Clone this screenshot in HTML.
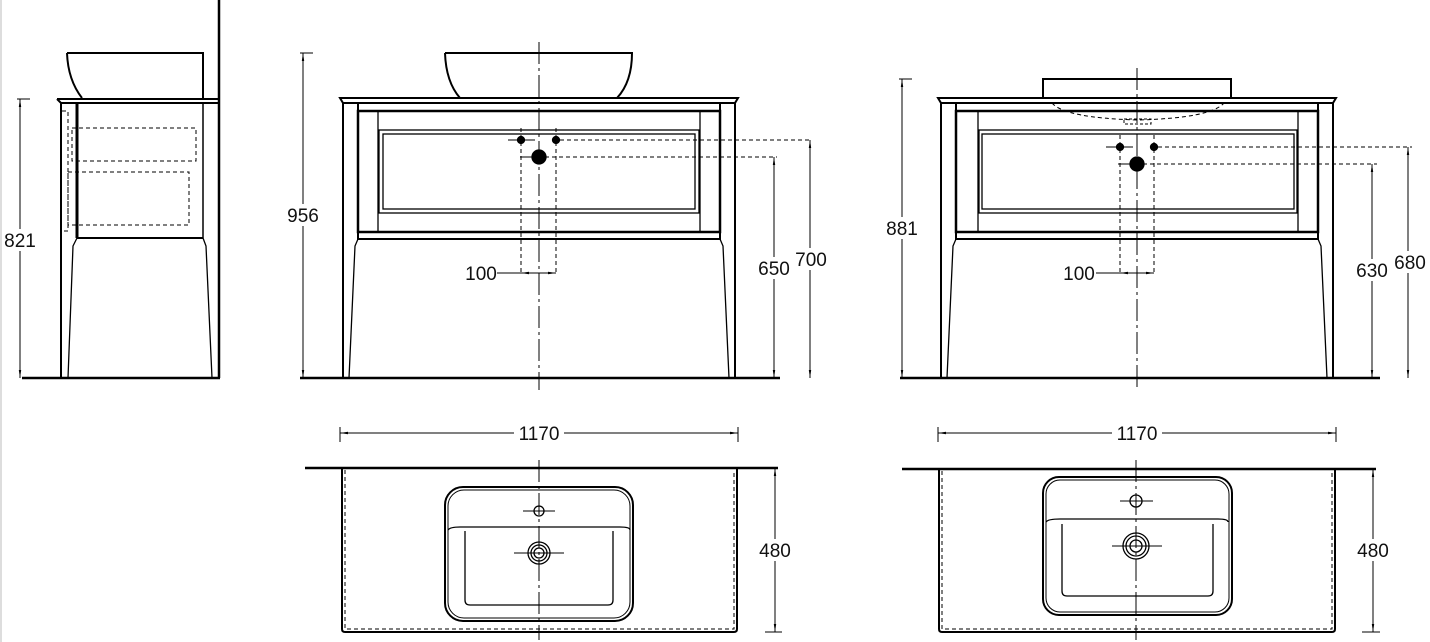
<!DOCTYPE html>
<html><head><meta charset="utf-8"><style>
html,body{margin:0;padding:0;background:#fff;}
svg{display:block;}
text{font-family:"Liberation Sans",sans-serif;font-size:19px;fill:#111;}
</style></head><body>
<svg width="1430" height="642" viewBox="0 0 1430 642" xmlns="http://www.w3.org/2000/svg">
<defs>
<marker id="a" viewBox="0 0 10 10" refX="10" refY="5" markerWidth="8" markerHeight="8" orient="auto-start-reverse"><path d="M0,3.5 L10,5 L0,6.5z" fill="#000"/></marker>
</defs>
<rect x="0" y="0" width="1430" height="642" fill="#fff"/>
<line x1="1" y1="0" x2="1" y2="642" stroke="#ddd" stroke-width="2"/>
<g fill="none" stroke="#000" stroke-width="1.3">

<line x1="219" y1="0" x2="219" y2="378" stroke-width="2.5"/>
<path d="M67,53 L203,53 L203,98 M67,53 Q68,80 82,98" stroke-width="2"/>
<path d="M57,99 L219,99 M57,99 L61,103 L219,103" stroke-width="2"/>
<line x1="61" y1="103" x2="61" y2="378" stroke-width="2"/>
<line x1="77" y1="103" x2="77" y2="238" stroke-width="3"/>
<line x1="203" y1="103" x2="203" y2="238" stroke-width="1.5"/>
<line x1="77" y1="238" x2="203" y2="238" stroke-width="2"/>
<path d="M77,238 L73,246 L68,378 M203,238 L206,246 L212,378"/>
<g stroke-dasharray="4,3" stroke-width="1"><rect x="72" y="128" width="124" height="33"/><rect x="68" y="172" width="121" height="53"/><path d="M62,111 L68,111 L68,231 L62,231"/></g>
<line x1="22" y1="378" x2="220" y2="378" stroke-width="2.5"/>
<line x1="20" y1="99" x2="20" y2="378" marker-start="url(#a)" marker-end="url(#a)" stroke-width="1"/>
<line x1="17" y1="99" x2="30" y2="99" stroke-width="1"/>

<path d="M445,53 L632,53 Q632,82 617,98 M445,53 Q446,82 460,98" stroke-width="2"/>
<path d="M340,98 L738,98 L735,103 L343,103 Z" stroke-width="2"/>
<line x1="343" y1="103" x2="343" y2="378" stroke-width="2"/>
<line x1="735" y1="103" x2="735" y2="378" stroke-width="2"/>
<rect x="358" y="111" width="362" height="121" stroke-width="2.5"/>
<line x1="358" y1="103" x2="358" y2="111" stroke-width="2"/>
<line x1="720" y1="103" x2="720" y2="111" stroke-width="2"/>
<line x1="378" y1="111" x2="378" y2="232"/><line x1="700" y1="111" x2="700" y2="232"/>
<rect x="379" y="130" width="320" height="83"/><rect x="383" y="134" width="312" height="75"/>
<path d="M358,232 L358,239 L720,239 L720,232" stroke-width="2"/>
<path d="M358,239 L355,246 L349,378 M720,239 L723,246 L729,378"/>
<line x1="300" y1="378" x2="780" y2="378" stroke-width="2.5"/>
<line x1="539" y1="42" x2="539" y2="390" stroke-width="1" stroke-dasharray="22,4,3,4"/>
<circle cx="521" cy="140" r="3.5" fill="#000"/><circle cx="556" cy="140" r="3.5" fill="#000"/>
<circle cx="539" cy="157" r="7" fill="#000"/>
<g stroke-width="1" stroke-dasharray="4,3">
<line x1="521" y1="128" x2="521" y2="275"/><line x1="556" y1="128" x2="556" y2="275"/>
<line x1="560" y1="140" x2="812" y2="140"/><line x1="545" y1="157" x2="777" y2="157"/>
</g>
<line x1="508" y1="140" x2="535" y2="140" stroke-width="1"/>
<line x1="520" y1="157" x2="536" y2="157" stroke-width="1"/>
<line x1="497" y1="273" x2="521" y2="273" stroke-width="1"/>
<line x1="539" y1="273" x2="521" y2="273" stroke-width="1" marker-end="url(#a)"/>
<line x1="539" y1="273" x2="556" y2="273" stroke-width="1" marker-end="url(#a)"/>
<line x1="303" y1="53" x2="303" y2="378" marker-start="url(#a)" marker-end="url(#a)" stroke-width="1"/>
<line x1="300" y1="53" x2="313" y2="53" stroke-width="1"/>
<line x1="774" y1="157" x2="774" y2="378" marker-start="url(#a)" marker-end="url(#a)" stroke-width="1"/>
<line x1="810" y1="140" x2="810" y2="378" marker-start="url(#a)" marker-end="url(#a)" stroke-width="1"/>

<path d="M1043,98 L1043,79 L1231,79 L1231,98" stroke-width="2"/>
<path d="M1052,103 Q1065,118 1138,120 Q1211,118 1224,103" stroke-width="1" stroke-dasharray="4,3"/>
<rect x="1124" y="119" width="27" height="5" stroke-width="1" stroke-dasharray="3,2"/>
<path d="M938,98 L1336,98 L1333,103 L941,103 Z" stroke-width="2"/>
<line x1="941" y1="103" x2="941" y2="378" stroke-width="2"/>
<line x1="1333" y1="103" x2="1333" y2="378" stroke-width="2"/>
<rect x="956" y="111" width="362" height="121" stroke-width="2.5"/>
<line x1="956" y1="103" x2="956" y2="111" stroke-width="2"/>
<line x1="1318" y1="103" x2="1318" y2="111" stroke-width="2"/>
<line x1="978" y1="111" x2="978" y2="232"/><line x1="1298" y1="111" x2="1298" y2="232"/>
<rect x="979" y="130" width="318" height="83"/><rect x="982" y="134" width="312" height="75"/>
<path d="M956,232 L956,239 L1318,239 L1318,232" stroke-width="2"/>
<path d="M956,239 L953,246 L947,378 M1318,239 L1321,246 L1327,378"/>
<line x1="900" y1="378" x2="1380" y2="378" stroke-width="2.5"/>
<line x1="1137" y1="68" x2="1137" y2="390" stroke-width="1" stroke-dasharray="22,4,3,4"/>
<circle cx="1120" cy="147" r="3.5" fill="#000"/><circle cx="1154" cy="147" r="3.5" fill="#000"/>
<circle cx="1137" cy="164" r="7" fill="#000"/>
<g stroke-width="1" stroke-dasharray="4,3">
<line x1="1120" y1="135" x2="1120" y2="275"/><line x1="1154" y1="135" x2="1154" y2="275"/>
<line x1="1158" y1="147" x2="1412" y2="147"/><line x1="1143" y1="164" x2="1377" y2="164"/>
</g>
<line x1="1106" y1="147" x2="1133" y2="147" stroke-width="1"/>
<line x1="1118" y1="164" x2="1134" y2="164" stroke-width="1"/>
<line x1="1096" y1="273" x2="1120" y2="273" stroke-width="1"/>
<line x1="1137" y1="273" x2="1120" y2="273" stroke-width="1" marker-end="url(#a)"/>
<line x1="1137" y1="273" x2="1154" y2="273" stroke-width="1" marker-end="url(#a)"/>
<line x1="902" y1="79" x2="902" y2="378" marker-start="url(#a)" marker-end="url(#a)" stroke-width="1"/>
<line x1="899" y1="79" x2="912" y2="79" stroke-width="1"/>
<line x1="1372" y1="164" x2="1372" y2="378" marker-start="url(#a)" marker-end="url(#a)" stroke-width="1"/>
<line x1="1408" y1="147" x2="1408" y2="378" marker-start="url(#a)" marker-end="url(#a)" stroke-width="1"/>

<line x1="340" y1="433" x2="738" y2="433" marker-start="url(#a)" marker-end="url(#a)" stroke-width="1"/>
<line x1="340" y1="427" x2="340" y2="442" stroke-width="1"/><line x1="738" y1="427" x2="738" y2="442" stroke-width="1"/>
<line x1="305" y1="468" x2="778" y2="468" stroke-width="2.5"/>
<path d="M342,468 L342,629 Q342,632 345,632 L734,632 Q737,632 737,629 L737,468" stroke-width="2"/>
<path d="M345,470 L345,629 L734,629 L734,470" stroke-width="1" stroke-dasharray="4,3"/>
<rect x="445" y="487" width="188" height="134" rx="18" stroke-width="2"/>
<rect x="448" y="490" width="182" height="128" rx="16" stroke-width="1"/>
<path d="M448,530 Q450,527 460,527 L620,527 Q630,527 630,530"/>
<path d="M465,531 L465,600 Q465,605 470,605 L608,605 Q613,605 613,600 L613,531"/>
<circle cx="539" cy="511" r="5"/>
<line x1="523" y1="511" x2="555" y2="511" stroke-width="1"/>
<circle cx="539" cy="553" r="11"/><circle cx="539" cy="553" r="8"/><circle cx="539" cy="553" r="5"/>
<line x1="514" y1="553" x2="564" y2="553" stroke-width="1"/>
<line x1="539" y1="460" x2="539" y2="640" stroke-width="1" stroke-dasharray="22,4,3,4"/>
<line x1="775" y1="468" x2="775" y2="632" marker-start="url(#a)" marker-end="url(#a)" stroke-width="1"/>
<line x1="765" y1="632" x2="782" y2="632" stroke-width="1"/>

<line x1="938" y1="433" x2="1336" y2="433" marker-start="url(#a)" marker-end="url(#a)" stroke-width="1"/>
<line x1="938" y1="427" x2="938" y2="442" stroke-width="1"/><line x1="1336" y1="427" x2="1336" y2="442" stroke-width="1"/>
<line x1="902" y1="469" x2="1376" y2="469" stroke-width="2.5"/>
<path d="M939,469 L939,629 Q939,632 942,632 L1332,632 Q1335,632 1335,629 L1335,469" stroke-width="2"/>
<path d="M942,471 L942,629 L1332,629 L1332,471" stroke-width="1" stroke-dasharray="4,3"/>
<rect x="1043" y="477" width="189" height="138" rx="16" stroke-width="2"/>
<rect x="1046" y="480" width="183" height="132" rx="14" stroke-width="1"/>
<path d="M1046,522 Q1048,519 1060,519 L1218,519 Q1228,519 1228,522"/>
<path d="M1062,524 L1062,591 Q1062,596 1067,596 L1208,596 Q1213,596 1213,591 L1213,524"/>
<circle cx="1136" cy="501" r="6"/>
<line x1="1120" y1="501" x2="1153" y2="501" stroke-width="1"/>
<circle cx="1136" cy="546" r="13"/><circle cx="1136" cy="546" r="10"/><circle cx="1136" cy="546" r="6"/>
<line x1="1112" y1="546" x2="1162" y2="546" stroke-width="1"/>
<line x1="1136" y1="460" x2="1136" y2="640" stroke-width="1" stroke-dasharray="22,4,3,4"/>
<line x1="1373" y1="469" x2="1373" y2="632" marker-start="url(#a)" marker-end="url(#a)" stroke-width="1"/>
<line x1="1362" y1="632" x2="1380" y2="632" stroke-width="1"/>
</g>

<g>
<rect x="2" y="229" width="36" height="22" fill="#fff"/><text x="20" y="247" text-anchor="middle">821</text>
<rect x="285" y="204" width="36" height="22" fill="#fff"/><text x="303" y="222" text-anchor="middle">956</text>
<text x="481" y="280" text-anchor="middle">100</text>
<rect x="756" y="257" width="36" height="22" fill="#fff"/><text x="774" y="275" text-anchor="middle">650</text>
<rect x="793" y="248" width="36" height="22" fill="#fff"/><text x="811" y="266" text-anchor="middle">700</text>
<rect x="884" y="217" width="36" height="22" fill="#fff"/><text x="902" y="235" text-anchor="middle">881</text>
<text x="1079" y="280" text-anchor="middle">100</text>
<rect x="1354" y="259" width="36" height="22" fill="#fff"/><text x="1372" y="277" text-anchor="middle">630</text>
<rect x="1392" y="251" width="36" height="22" fill="#fff"/><text x="1410" y="269" text-anchor="middle">680</text>
<rect x="514" y="422" width="50" height="22" fill="#fff"/><text x="539" y="440" text-anchor="middle">1170</text>
<rect x="1112" y="422" width="50" height="22" fill="#fff"/><text x="1137" y="440" text-anchor="middle">1170</text>
<rect x="757" y="539" width="36" height="22" fill="#fff"/><text x="775" y="557" text-anchor="middle">480</text>
<rect x="1355" y="539" width="36" height="22" fill="#fff"/><text x="1373" y="557" text-anchor="middle">480</text>
</g>
</svg>
</body></html>
